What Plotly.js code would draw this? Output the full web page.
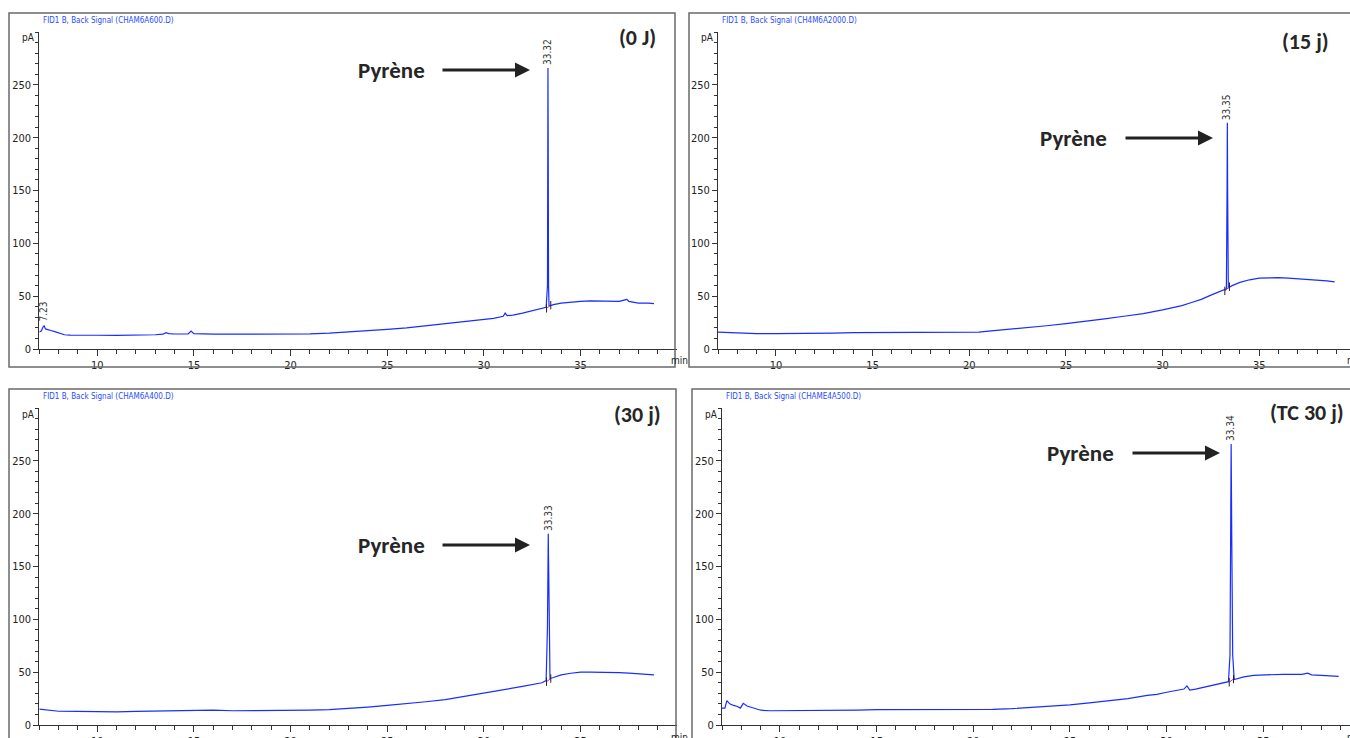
<!DOCTYPE html>
<html>
<head>
<meta charset="utf-8">
<script src="https://cdn.plot.ly/plotly-3.0.1.min.js"></script>
<style>html,body{margin:0;padding:0;background:#fff;}#chart{width:1350px;height:738px;}</style>
</head>
<body>
<div id="chart"></div>
<script>
// ---------------- DATA ----------------
const panelTitles = ["(0 J)", "(15 j)", "(30 j)", "(TC 30 j)"];
const signalNames = ["FID1 B, Back Signal (CHAM6A600.D)", "FID1 B, Back Signal (CH4M6A2000.D)",
                     "FID1 B, Back Signal (CHAM6A400.D)", "FID1 B, Back Signal (CHAME4A500.D)"];
const compoundName = "Pyrène";
const yTickVals = [0, 50, 100, 150, 200, 250];
const yTickText = ["0", "50", "100", "150", "200", "250"];
const xTickVals = [10, 15, 20, 25, 30, 35];
const xTickText = ["10", "15", "20", "25", "30", "35"];

// Panel 1 : 0 J
const t0 = [7.0, 7.1, 7.2, 7.25, 7.32, 7.45, 7.6, 7.8, 8.0, 8.3, 8.6, 9.0, 9.5, 10, 11, 12, 13, 13.4, 13.55, 13.7, 14,
  14.7, 14.85, 15.0, 15.5, 16, 17, 18, 19, 20, 21, 22, 23, 24, 25, 26, 27, 28, 29, 30, 30.5, 31.0, 31.1, 31.2, 31.5,
  32, 32.5, 33.0, 33.22, 33.29, 33.30, 33.315, 33.33, 33.345, 33.37, 33.45, 33.6, 34, 34.5, 35, 35.5, 36, 36.5, 37,
  37.3, 37.4, 37.5, 38, 38.5, 38.8];
const s0 = [16, 17, 21, 22, 19, 18, 17.5, 16.5, 15, 13.5, 13.2, 13, 13, 13, 12.8, 13, 13.5, 14, 15.5, 14.5, 14.2,
  14.3, 17, 14.5, 14.2, 14, 14, 14, 14, 14, 14.3, 15, 16, 17, 18.5, 20, 22, 24, 26, 28, 29, 31, 34, 31.5, 32,
  34, 36, 38, 39.5, 60, 174, 266, 174, 60, 41, 41, 42, 43.5, 44.5, 45, 45.5, 45.5, 45, 45,
  46.5, 47, 45, 43.5, 43.5, 43];

// Panel 2 : 15 j
const t1 = [7, 7.5, 8, 9, 10, 11, 12, 13, 14, 15, 16, 17, 18, 19, 20, 20.5, 21, 22, 23, 24, 25, 26, 26.8, 27, 28,
  29, 30, 30.5, 31, 31.5, 32, 32.5, 32.9, 33.3, 33.335, 33.35, 33.365, 33.4, 33.6, 34, 34.5, 35, 35.5, 36, 36.5,
  37, 37.5, 38, 38.5, 38.9];
const s1 = [16, 15.5, 15, 14.5, 14.5, 14.5, 15, 15, 15.5, 15.5, 15.5, 15.5, 15.5, 15.5, 15.5, 16, 17, 18.5, 20, 22,
  24, 26, 28, 28.5, 31, 33.5, 37, 39, 41, 44, 47, 51, 54, 57, 150, 214, 150, 58, 60, 63, 65.5, 67, 67.5, 67.5, 67,
  66.5, 66, 65, 64.5, 63.5];

// Panel 3 : 30 j
const t2 = [7, 7.5, 8, 9, 10, 11, 12, 13, 14, 15, 16, 17, 18, 19, 20, 21, 22, 23, 24, 25, 26, 27, 28, 29, 30, 31,
  32, 33, 33.22, 33.29, 33.31, 33.33, 33.35, 33.37, 33.42, 33.6, 34, 34.5, 35, 35.5, 36, 36.5, 37, 37.5, 38, 38.5,
  38.8];
const s2 = [15, 14, 13, 12.8, 12.5, 12.5, 12.8, 13, 13.5, 14, 14, 13.5, 13.5, 13.5, 13.5, 14, 14.5, 15.5, 17, 18.5,
  20, 22, 24, 27, 30, 33, 36.5, 40, 42, 94, 150, 181, 150, 94, 44, 45, 47.5, 49, 50, 50, 50, 50, 49.5, 49, 48.5,
  48, 47.5];

// Panel 4 : TC 30 j
const t3 = [7, 7.15, 7.25, 7.4, 7.6, 7.8, 7.95, 8.1, 8.3, 8.6, 9, 9.5, 10, 11, 12, 13, 14, 15, 16, 17, 18, 19, 20,
  21, 22, 23, 24, 25, 26, 27, 28, 29, 29.5, 30, 30.5, 30.9, 31.05, 31.2, 31.5, 32, 32.5, 33, 33.2, 33.28, 33.31,
  33.34, 33.37, 33.42, 33.5, 34, 34.5, 35, 35.5, 36, 36.5, 37, 37.3, 37.5, 38, 38.5, 38.9];
const s3 = [16, 16, 23, 20, 18.5, 17.5, 16, 20.5, 18, 16, 14, 13.5, 13.5, 13.5, 13.5, 13.8, 14, 14.5, 14.5, 14.5,
  14.5, 14.5, 14.5, 14.8, 15.5, 16.5, 17.5, 19, 21, 23, 25, 28, 29, 31, 33, 34, 37, 33, 34, 36, 38, 40, 41, 66,
  180, 266, 180, 66, 43, 45.5, 47, 47.5, 48, 48, 48, 48, 49, 47.5, 47, 46.5, 46];

const times = [t0, t1, t2, t3];
const signals = [s0, s1, s2, s3];

// integrated peak (retention time label, apex) per panel
const peakRT = [33.32, 33.35, 33.33, 33.34];
const peakApex = [266, 214, 181, 266];
const peakLabel = ["33.32", "33.35", "33.33", "33.34"];
// integration baselines (start/end time and value)
const baseT = [[33.24, 33.46], [33.22, 33.46], [33.24, 33.46], [33.24, 33.46]];
const baseV = [[38.5, 41.5], [55, 59], [41, 44], [40.5, 43.5]];
// small extra peak label in panel 1
const minorRT = 7.23, minorApex = 22, minorLabel = "7.23";

// ---------------- LAYOUT ----------------
const W = 1350, H = 738;
const px = x => x / W, py = y => 1 - y / H;
const narrow = "Liberation Sans Narrow, DejaVu Sans Condensed, Arial Narrow, sans-serif";
const traceColor = "rgb(25,45,255)";

// pixel geometry of each panel
const geom = [
  {x0: 39.3, t0: 7, xr: 19.33, yb: 349, yt: 32, xEnd: 677},
  {x0: 718, t0: 7, xr: 19.33, yb: 349, yt: 32, xEnd: 1350},
  {x0: 39.3, t0: 7, xr: 19.33, yb: 725, yt: 408, xEnd: 677},
  {x0: 722, t0: 7, xr: 19.33, yb: 725, yt: 408, xEnd: 1350}
];

const data = [];
const layout = {
  width: W, height: H, margin: {l: 0, r: 0, t: 0, b: 0},
  paper_bgcolor: "#fff", plot_bgcolor: "rgba(0,0,0,0)", showlegend: false,
  annotations: [], shapes: []
};

geom.forEach((g, i) => {
  const n = i === 0 ? "" : String(i + 1);
  const xa = "x" + n, ya = "y" + n;
  const tEnd = g.t0 + (g.xEnd - g.x0) / g.xr;
  layout["xaxis" + n] = {
    domain: [px(g.x0), px(g.xEnd)], range: [g.t0, tEnd], anchor: ya,
    showgrid: false, zeroline: false, showline: true, linecolor: "#333", linewidth: 1,
    ticks: "outside", ticklen: 6, tickcolor: "#333", tickmode: "array",
    tickvals: xTickVals, ticktext: xTickText,
    minor: {tickmode: "linear", tick0: 0, dtick: 1, ticks: "outside", ticklen: 4, tickcolor: "#333"},
    tickfont: {family: narrow, size: 11, color: "#222"}, fixedrange: true
  };
  layout["yaxis" + n] = {
    domain: [py(g.yb), py(g.yt)], range: [0, 300], anchor: xa,
    showgrid: false, zeroline: false, showline: true, linecolor: "#333", linewidth: 1,
    ticks: "outside", ticklen: 5, tickcolor: "#333", tickmode: "array",
    tickvals: yTickVals, ticktext: yTickText,
    minor: {tickmode: "linear", tick0: 0, dtick: 10, ticks: "outside", ticklen: 3, tickcolor: "#333"},
    tickfont: {family: narrow, size: 11, color: "#222"}, fixedrange: true
  };

  data.push({x: times[i], y: signals[i], xaxis: xa, yaxis: ya, type: "scatter", mode: "lines",
    line: {color: traceColor, width: 1.2}, hoverinfo: "skip"});
  data.push({x: baseT[i], y: baseV[i], xaxis: xa, yaxis: ya, type: "scatter", mode: "lines+markers",
    line: {color: "#d020d0", width: 1}, marker: {symbol: "line-ns", size: 6, color: "#222", line: {width: 1, color: "#222"}},
    hoverinfo: "skip"});

  layout.annotations.push({xref: xa, yref: ya, x: peakRT[i], y: peakApex[i], text: peakLabel[i],
    textangle: -90, showarrow: false, yanchor: "bottom", xanchor: "center", yshift: 1,
    font: {family: narrow, size: 10, color: "#333"}});

  layout.annotations.push({xref: "paper", yref: "paper", x: px(g.x0 - 2), y: py(g.yt + 6), text: "pA",
    showarrow: false, xanchor: "right", yanchor: "middle", font: {family: narrow, size: 10, color: "#222"}});
  layout.annotations.push({xref: "paper", yref: "paper", x: px(i % 2 === 0 ? 669 : 1345), y: py(g.yb + 12), text: "min",
    showarrow: false, xanchor: "left", yanchor: "middle", font: {family: narrow, size: 10, color: "#222"}});

  layout.annotations.push({xref: "paper", yref: "paper", x: px(g.x0 + 1.5), y: py(i < 2 ? 20.5 : 396.5),
    text: signalNames[i], showarrow: false, xanchor: "left", yanchor: "middle",
    font: {family: narrow, size: 8, color: "#2a4cff"}});
});

layout.annotations.push({xref: "x", yref: "y", x: minorRT, y: minorApex, text: minorLabel, textangle: -90,
  showarrow: false, yanchor: "bottom", xanchor: "center", yshift: 2, font: {family: narrow, size: 10, color: "#333"}});

const titlePos = [[658, 38], [1331, 42], [663, 414], [1346, 412]];
panelTitles.forEach((t, i) => {
  layout.annotations.push({xref: "paper", yref: "paper", x: px(titlePos[i][0]), y: py(titlePos[i][1]),
    text: "<b>" + t + "</b>", showarrow: false, xanchor: "right", yanchor: "middle",
    font: {family: "Carlito, Lato, Open Sans, sans-serif", size: 22, color: "#262626"}});
});

const arrowPos = [[391, 441, 530, 70], [1073, 1124, 1213, 138], [391, 441, 530, 545], [1080, 1131, 1220, 453]];
arrowPos.forEach(a => {
  layout.annotations.push({xref: "paper", yref: "paper", x: px(a[0]), y: py(a[3]),
    text: "<b>" + compoundName + "</b>", showarrow: false, xanchor: "center", yanchor: "middle",
    font: {family: "Carlito, Lato, Open Sans, sans-serif", size: 23, color: "#262626"}});
  layout.annotations.push({xref: "paper", yref: "paper", x: px(a[2]), y: py(a[3]), text: "",
    showarrow: true, ax: a[1] - a[2], ay: 0, axref: "pixel", ayref: "pixel",
    arrowhead: 2, arrowsize: 1, arrowwidth: 3, arrowcolor: "#222"});
});

const frames = [[9, 675, 13, 367], [689, 1352, 13, 367], [9, 676, 389, 742], [692, 1352, 389, 742]];
frames.forEach(f => {
  layout.shapes.push({type: "rect", xref: "paper", yref: "paper", x0: px(f[0]), x1: px(f[1]),
    y0: py(f[3]), y1: py(f[2]), line: {color: "#6a6a6a", width: 1.5}, fillcolor: "rgba(0,0,0,0)", layer: "above"});
});

Plotly.newPlot("chart", data, layout, {displayModeBar: false, staticPlot: true});
</script>
</body>
</html>
